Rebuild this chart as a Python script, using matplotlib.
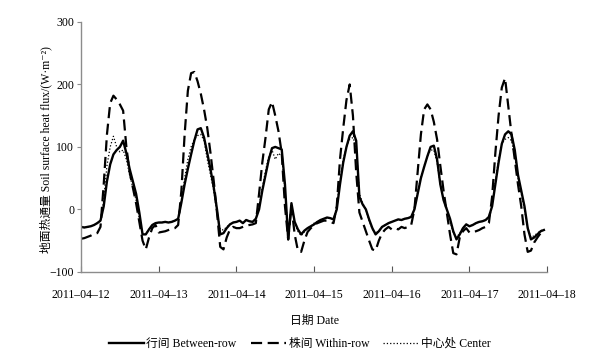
import numpy as np
import pandas as pd
import matplotlib
matplotlib.use('Agg')
import matplotlib.pyplot as plt
import matplotlib.dates as mdates

plt.rcParams['font.family'] = ['Liberation Serif', 'Noto Sans CJK SC', 'DejaVu Serif']
plt.rcParams['axes.unicode_minus'] = True

# hourly soil surface heat flux, 2011-04-12 00:00 .. 2011-04-17 23:00 (W m-2)
between_row = [
    -28, -29, -28, -27, -25, -22, -18, 5, 45, 72, 88, 95, 100, 110, 90, 65, 45, 25, -5, -40, -40, -32, -25, -22,
    -21, -21, -20, -21, -20, -18, -15, 11, 40, 65, 88, 110, 128, 130, 115, 90, 64, 35, 0, -40, -38, -30, -24, -21,
    -20, -18, -22, -17, -19, -20, -15, 0, 30, 55, 80, 98, 100, 98, 96, 40, -48, 10, -20, -32, -40, -34, -30, -27,
    -24, -20, -17, -15, -13, -14, -16, 0, 40, 75, 100, 118, 125, 110, 20, 8, 0, -16, -30, -40, -35, -28, -25, -22,
    -20, -18, -16, -17, -15, -14, -12, 0, 25, 50, 68, 85, 100, 102, 80, 40, 15, 0, -15, -35, -48, -40, -30, -24,
    -27, -25, -22, -20, -19, -17, -12, 5, 40, 75, 105, 120, 125, 120, 95, 55, 30, 5, -30, -48, -45, -40, -35, -33,
]
within_row = [
    -47, -46, -44, -42, -39, -38, -28, 40, 120, 170, 182, 176, 168, 158, 100, 60, 35, 10, -20, -50, -64, -45, -30, -25,
    -37, -36, -35, -33, -31, -30, -25, 30, 120, 190, 218, 220, 205, 185, 160, 130, 90, 45, -5, -60, -64, -45, -32, -28,
    -30, -30, -28, -26, -25, -24, -22, 25, 75, 115, 160, 172, 150, 125, 90, 5, -48, 5, -40, -66, -68, -50, -36, -30,
    -25, -22, -20, -18, -18, -20, -22, 5, 80, 130, 175, 200, 150, 60, -5, -20, -35, -50, -64, -66, -50, -38, -32, -28,
    -32, -30, -32, -28, -30, -28, -25, 0, 60, 120, 160, 168, 160, 140, 112, 70, 30, -5, -40, -70, -72, -45, -35, -30,
    -37, -36, -35, -33, -30, -28, -22, 20, 90, 150, 195, 210, 165, 120, 80, 40, 5, -40, -68, -66, -53, -45, -38, -35,
]
center = [
    -28, -29, -28, -27, -25, -22, -18, 15, 70, 100, 117, 100, 92, 95, 80, 55, 35, 15, -15, -38, -40, -32, -25, -22,
    -21, -21, -20, -21, -20, -18, -15, 15, 50, 80, 100, 112, 118, 120, 110, 80, 55, 30, -5, -32, -33, -28, -24, -21,
    -20, -18, -22, -17, -19, -20, -15, 5, 35, 62, 85, 95, 80, 90, 85, 30, -40, 5, -22, -35, -42, -36, -30, -27,
    -22, -20, -17, -15, -13, -14, -16, 5, 45, 80, 100, 112, 115, 100, 25, 10, 0, -18, -32, -38, -34, -28, -25, -22,
    -20, -18, -16, -17, -15, -14, -12, 2, 28, 52, 70, 85, 95, 95, 75, 40, 15, 0, -18, -38, -45, -38, -30, -24,
    -27, -25, -22, -20, -19, -17, -12, 8, 45, 80, 105, 112, 115, 110, 85, 50, 25, 0, -30, -45, -42, -38, -34, -32,
]
times = pd.date_range('2011-04-12', periods=len(between_row), freq='h')

fig = plt.figure(figsize=(5.96, 3.54), dpi=100)
ax = fig.add_axes([0.136, 0.232, 0.782, 0.706])

ax.plot(times, between_row, color='black', linewidth=1.7, label='行间 Between-row')
ax.plot(times, within_row, color='black', linewidth=1.6, dashes=(5, 2.5), label='株间 Within-row')
ax.plot(times, center, color='black', linewidth=0.9, linestyle=':', label='中心处 Center')

ax.set_xlim(pd.Timestamp('2011-04-12'), pd.Timestamp('2011-04-18'))
ax.set_ylim(-100, 300)
ax.set_yticks([-100, 0, 100, 200, 300])
ax.xaxis.set_major_locator(mdates.DayLocator())
ax.xaxis.set_major_formatter(mdates.DateFormatter('%Y\u2013%m\u2013%d'))

for s in ['top', 'right']:
    ax.spines[s].set_visible(False)
for s in ['left', 'bottom']:
    ax.spines[s].set_color('#8c8c8c')
    ax.spines[s].set_linewidth(1.0)

ax.tick_params(axis='x', direction='in', length=4, color='#555555', labelsize=8.5, pad=12)
ax.tick_params(axis='y', direction='out', length=3, color='#8c8c8c', labelsize=8.5, pad=2)

ax.set_xlabel('日期 Date', fontsize=8.5, labelpad=10)
ax.set_ylabel('地面热通量 Soil surface heat flux/(W·m\u207b\u00b2)', fontsize=8.5)
ax.yaxis.set_label_coords(-0.062, 0.49)

fig.legend(loc='center', bbox_to_anchor=(0.503, 0.028), ncol=3, frameon=False, fontsize=8.5,
           handlelength=3.0, handletextpad=0.2, columnspacing=1.2)

plt.savefig('out.png', dpi=100)
